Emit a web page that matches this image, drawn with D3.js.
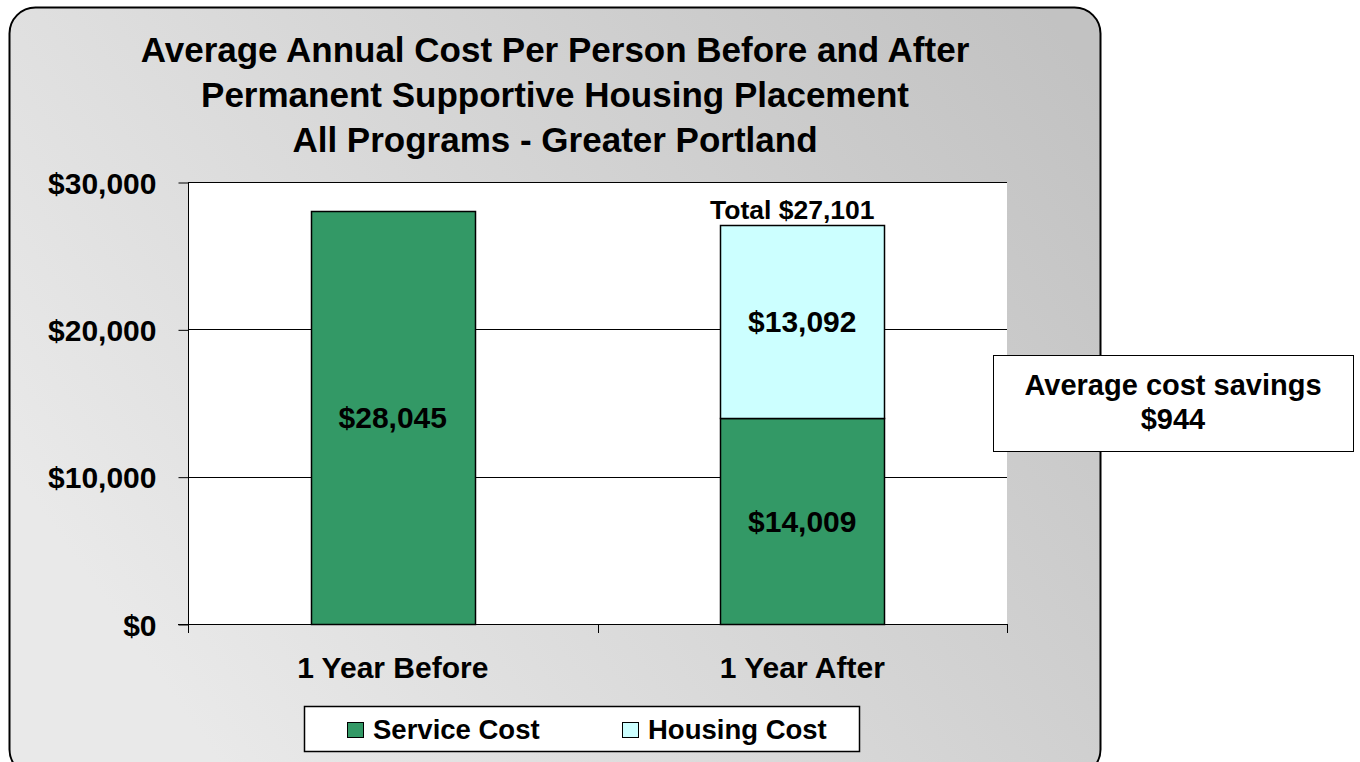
<!DOCTYPE html>
<html>
<head>
<meta charset="utf-8">
<script src="https://cdn.jsdelivr.net/npm/d3@7"></script>
<style>
  body { margin: 0; background: #fff; }
  svg text { font-family: "Liberation Sans", Arial, sans-serif; font-weight: bold; fill: #000; }
</style>
</head>
<body>
<svg id="chart" width="1360" height="762"></svg>
<script>
// chart data
var categories = ["1 Year Before", "1 Year After"];
var serviceCost = [28045, 14009];
var housingCost = [0, 13092];
var yTicks = [0, 10000, 20000, 30000];
var titleLines = [
  "Average Annual Cost Per Person Before and After",
  "Permanent Supportive Housing Placement",
  "All Programs - Greater Portland"
];
var seriesNames = ["Service Cost", "Housing Cost"];
var seriesColors = ["#339966", "#ccffff"];
var savingsLines = ["Average cost savings", "$944"];

var svg = d3.select("#chart");

// background gradient
var defs = svg.append("defs");
var grad = defs.append("linearGradient")
  .attr("id", "bg")
  .attr("x1", 0).attr("y1", 0.6)
  .attr("x2", 1).attr("y2", 0.1);
grad.append("stop").attr("offset", 0).attr("stop-color", "#e9e9e9");
grad.append("stop").attr("offset", 1).attr("stop-color", "#c2c2c2");

svg.append("rect")
  .attr("x", 9.5).attr("y", 7.5)
  .attr("width", 1091).attr("height", 768)
  .attr("rx", 26).attr("ry", 26)
  .attr("fill", "url(#bg)")
  .attr("stroke", "#000")
  .attr("stroke-width", 2);

// title
svg.append("text")
  .attr("text-anchor", "middle")
  .style("font-size", "35px")
  .selectAll("tspan")
  .data(titleLines)
  .join("tspan")
  .attr("x", 555)
  .attr("y", function(d, i) { return 62 + i * 45; })
  .text(function(d) { return d; });

// plot area
var plot = { left: 188, right: 1007, top: 182, bottom: 624 };

var x = d3.scaleBand()
  .domain(categories)
  .range([plot.left, plot.right])
  .paddingInner(0.6)
  .paddingOuter(0.3);

var y = d3.scaleLinear()
  .domain([0, 30000])
  .range([plot.bottom, plot.top]);

svg.append("rect")
  .attr("x", plot.left).attr("y", plot.top)
  .attr("width", plot.right - plot.left)
  .attr("height", plot.bottom - plot.top)
  .attr("fill", "#fff");

// gridlines
svg.append("g")
  .selectAll("line")
  .data(yTicks.filter(function(d) { return d > 0; }))
  .join("line")
  .attr("x1", plot.left).attr("x2", plot.right)
  .attr("y1", function(d) { return Math.round(y(d)) + 0.5; })
  .attr("y2", function(d) { return Math.round(y(d)) + 0.5; })
  .attr("stroke", "#000")
  .attr("stroke-width", 1);

// stacked bars
var rows = categories.map(function(c, i) {
  return { cat: c, service: serviceCost[i], housing: housingCost[i] };
});
var stack = d3.stack().keys(["service", "housing"]);
var layers = stack(rows);

svg.append("g")
  .selectAll("g")
  .data(layers)
  .join("g")
  .attr("fill", function(d, i) { return seriesColors[i]; })
  .selectAll("rect")
  .data(function(d) { return d.filter(function(p) { return p[1] > p[0]; }); })
  .join("rect")
  .attr("x", function(d) { return Math.round(x(d.data.cat)) + 0.5; })
  .attr("width", Math.round(x.bandwidth()))
  .attr("y", function(d) { return Math.round(y(d[1])) + 0.5; })
  .attr("height", function(d) { return Math.round(y(d[0])) - Math.round(y(d[1])); })
  .attr("stroke", "#000")
  .attr("stroke-width", 1.5);

// bar value labels
var fmt = d3.format("$,");
svg.append("g")
  .selectAll("text")
  .data(layers.flatMap(function(l) {
    return l.filter(function(p) { return p[1] > p[0]; });
  }))
  .join("text")
  .attr("text-anchor", "middle")
  .style("font-size", "30px")
  .attr("x", function(d) { return x(d.data.cat) + x.bandwidth() / 2; })
  .attr("y", function(d) { return (y(d[0]) + y(d[1])) / 2 + 11; })
  .text(function(d) { return fmt(d[1] - d[0]); });

// total label (sits a little left of the bar centre)
var total = serviceCost[1] + housingCost[1];
svg.append("text")
  .attr("text-anchor", "middle")
  .style("font-size", "26.5px")
  .attr("x", x(categories[1]) + x.bandwidth() / 2 - 10)
  .attr("y", y(total) - 6)
  .text("Total " + fmt(total));

// y axis
var yAxis = d3.axisLeft(y)
  .tickValues(yTicks)
  .tickSize(10)
  .tickPadding(22)
  .tickFormat(fmt);
var yg = svg.append("g")
  .attr("transform", "translate(" + (plot.left + 0.5) + ",0.5)")
  .call(yAxis);
yg.select(".domain").attr("stroke", "#000").attr("d", "M0," + plot.top + "V" + plot.bottom);
yg.selectAll(".tick line").attr("stroke", "#000");
yg.selectAll(".tick text")
  .attr("font-family", null)
  .style("font-size", "30px")
  .attr("dy", "0.36em");

// x axis
var xAxis = d3.axisBottom(x).tickSize(0).tickPadding(32);
var xg = svg.append("g")
  .attr("transform", "translate(0," + (plot.bottom + 0.5) + ")")
  .call(xAxis);
xg.select(".domain").attr("stroke", "#000").attr("d", "M" + (plot.left - 10) + ",0H" + plot.right);
xg.selectAll(".tick text")
  .attr("font-family", null)
  .style("font-size", "30px");

// category separators on x axis
var seps = d3.range(categories.length + 1).map(function(i) { return plot.left + i * (plot.right - plot.left) / categories.length; });
svg.append("g")
  .selectAll("line")
  .data(seps)
  .join("line")
  .attr("x1", function(d) { return Math.round(d) + 0.5; })
  .attr("x2", function(d) { return Math.round(d) + 0.5; })
  .attr("y1", plot.bottom).attr("y2", plot.bottom + 9)
  .attr("stroke", "#000");

// legend
var legend = svg.append("g");
legend.append("rect")
  .attr("x", 304.5).attr("y", 706.5)
  .attr("width", 555).attr("height", 45)
  .attr("fill", "#fff").attr("stroke", "#000").attr("stroke-width", 1.5);
var legX = [347, 622];
var items = legend.selectAll("g.item")
  .data(seriesNames)
  .join("g")
  .attr("class", "item")
  .attr("transform", function(d, i) { return "translate(" + legX[i] + ",0)"; });
items.append("rect")
  .attr("x", 0.5).attr("y", 722.5)
  .attr("width", 16).attr("height", 15)
  .attr("fill", function(d, i) { return seriesColors[i]; })
  .attr("stroke", "#000").attr("stroke-width", 1);
items.append("text")
  .attr("x", 26).attr("y", 739)
  .style("font-size", "27.5px")
  .text(function(d) { return d; });

// savings callout
svg.append("rect")
  .attr("x", 993.5).attr("y", 355.5)
  .attr("width", 360).attr("height", 96)
  .attr("fill", "#fff").attr("stroke", "#000").attr("stroke-width", 1);
svg.append("text")
  .attr("text-anchor", "middle")
  .style("font-size", "29px")
  .selectAll("tspan")
  .data(savingsLines)
  .join("tspan")
  .attr("x", 1173)
  .attr("y", function(d, i) { return 395 + i * 34; })
  .text(function(d) { return d; });
</script>
</body>
</html>
